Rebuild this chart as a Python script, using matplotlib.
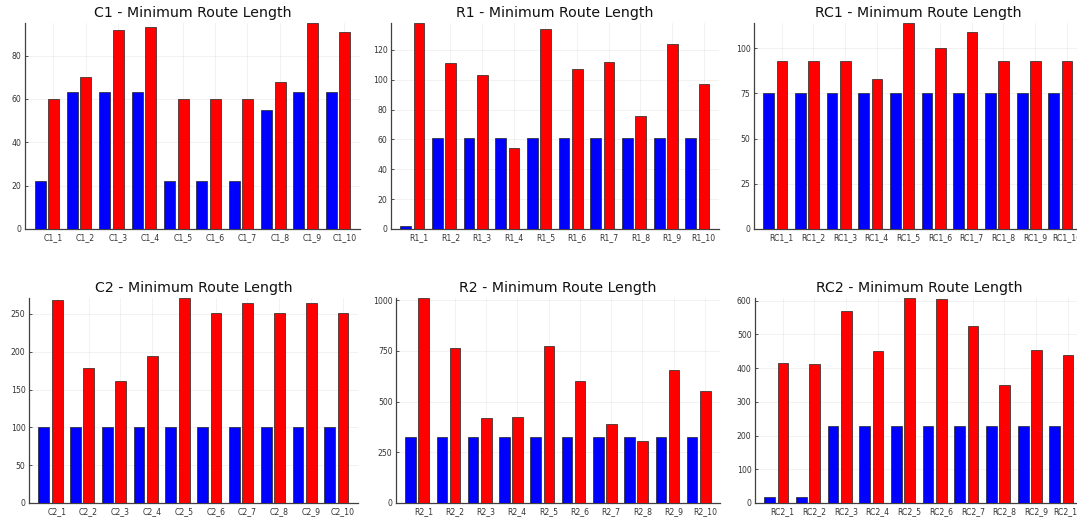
import matplotlib
matplotlib.use("Agg")
import matplotlib.pyplot as plt
import numpy as np

# ---- data ----
groups = ["C1", "R1", "RC1", "C2", "R2", "RC2"]

c1_blue = [22, 63, 63, 63, 22, 22, 22, 55, 63, 63]
c1_red = [60, 70, 92, 93, 60, 60, 60, 68, 95, 91]

r1_blue = [2, 61, 61, 61, 61, 61, 61, 61, 61, 61]
r1_red = [138, 111, 103, 54, 134, 107, 112, 76, 124, 97]

rc1_blue = [75, 75, 75, 75, 75, 75, 75, 75, 75, 75]
rc1_red = [93, 93, 93, 83, 114, 100, 109, 93, 93, 93]

c2_blue = [101, 101, 101, 101, 101, 101, 101, 101, 101, 101]
c2_red = [268, 179, 161, 194, 271, 251, 264, 251, 264, 251]

r2_blue = [324, 324, 324, 324, 324, 324, 324, 324, 324, 324]
r2_red = [1011, 763, 418, 422, 773, 603, 390, 304, 654, 554]

rc2_blue = [18, 18, 228, 228, 228, 228, 228, 228, 228, 228]
rc2_red = [416, 413, 570, 451, 608, 605, 524, 350, 454, 438]

blue_series = [c1_blue, r1_blue, rc1_blue, c2_blue, r2_blue, rc2_blue]
red_series = [c1_red, r1_red, rc1_red, c2_red, r2_red, rc2_red]

ytick_steps = [20, 20, 25, 50, 250, 100]

# ---- layout (pixels) ----
W, H = 1077, 518
fig = plt.figure(figsize=(W / 100, H / 100), dpi=100)

boxes = [
    (25, 360, 23, 229),
    (391, 719, 23, 229),
    (754, 1082, 23, 229),
    (29, 358, 298, 503),
    (396, 720, 298, 503),
    (755, 1083, 298, 503),
]

axis_col = "#404040"
text_col = "#333333"

for g, blue, red, step, (l, r, t, b) in zip(groups, blue_series, red_series, ytick_steps, boxes):
    ax = fig.add_axes([l / W, 1 - b / H, (r - l) / W, (b - t) / H])
    n = len(blue)
    x = np.arange(1, n + 1)
    w = 0.34
    off = 0.21
    ax.bar(x - off, blue, width=w, color="#0000FF", edgecolor="#222222", linewidth=0.5, zorder=3)
    ax.bar(x + off, red, width=w, color="#FF0000", edgecolor="#222222", linewidth=0.5, zorder=3)
    top = max(max(blue), max(red))
    ax.set_ylim(0, top)
    ax.set_xlim(0.325, 10.68)
    ax.set_yticks(np.arange(0, top + 1e-9, step))
    ax.set_xticks(x + 0.2)
    ax.set_xticklabels([f"{g}_{i}" for i in x])
    ax.tick_params(axis="both", labelsize=5.6, colors=text_col, direction="in", length=2.5, width=0.6, pad=2.5)
    ax.tick_params(axis="x", length=0, pad=3)
    for s in ["top", "right"]:
        ax.spines[s].set_visible(False)
    for s in ["left", "bottom"]:
        ax.spines[s].set_color(axis_col)
        ax.spines[s].set_linewidth(0.9)
    ax.grid(True, color="#000000", alpha=0.06, linewidth=0.6, zorder=0)
    ax.set_axisbelow(True)
    ax.set_title(f"{g} - Minimum Route Length", fontsize=10.2, color="#111111", pad=4)

fig.savefig("out.png", dpi=100)
